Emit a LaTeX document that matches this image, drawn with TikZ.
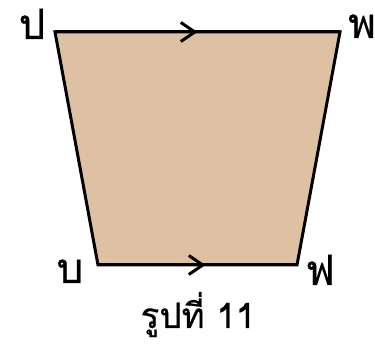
\documentclass[tikz,border=0pt]{standalone}
\usepackage{fontspec}
\newfontfamily\thaifont[Script=Thai,FakeBold=0.5]{Loma}
\usetikzlibrary{arrows.meta,decorations.markings}
\definecolor{tanfill}{RGB}{222,193,163}
\tikzset{
  edge/.style={line width=3pt, line join=miter},
  midarrow/.style={postaction={decorate},decoration={markings,mark=at position #1 with {\arrow{Straight Barb[length=14pt,width=19pt,line width=3pt]}}}},
  vlabel/.style={font=\thaifont\fontsize{42}{42}\selectfont, inner sep=0pt, anchor=base},
  caption/.style={font=\thaifont\fontsize{35}{35}\selectfont, inner sep=0pt, anchor=base}
}
\begin{document}
\begin{tikzpicture}[x=1pt,y=1pt]
\useasboundingbox (0,0) rectangle (375,344);
\coordinate (TL) at (55,312);
\coordinate (TR) at (340,312);
\coordinate (BR) at (297,79);
\coordinate (BL) at (98,79);
\fill[tanfill] (TL) -- (TR) -- (BR) -- (BL) -- cycle;
\draw[edge] (TL) -- (TR) -- (BR) -- (BL) -- cycle;
\draw[edge, midarrow=0.5] (TL) -- (TR);
\draw[edge, midarrow=0.54] (BL) -- (BR);
\node[vlabel] (p) at (32,305) {ป};
\node[vlabel] (ph) at (362,306) {พ};
\node[vlabel] (b) at (70,61) {บ};
\node[vlabel] (f) at (320,59) {ฟ};
\node[caption] (cap) at (198,16) {รูปที่ 11};
\end{tikzpicture}
\end{document}
